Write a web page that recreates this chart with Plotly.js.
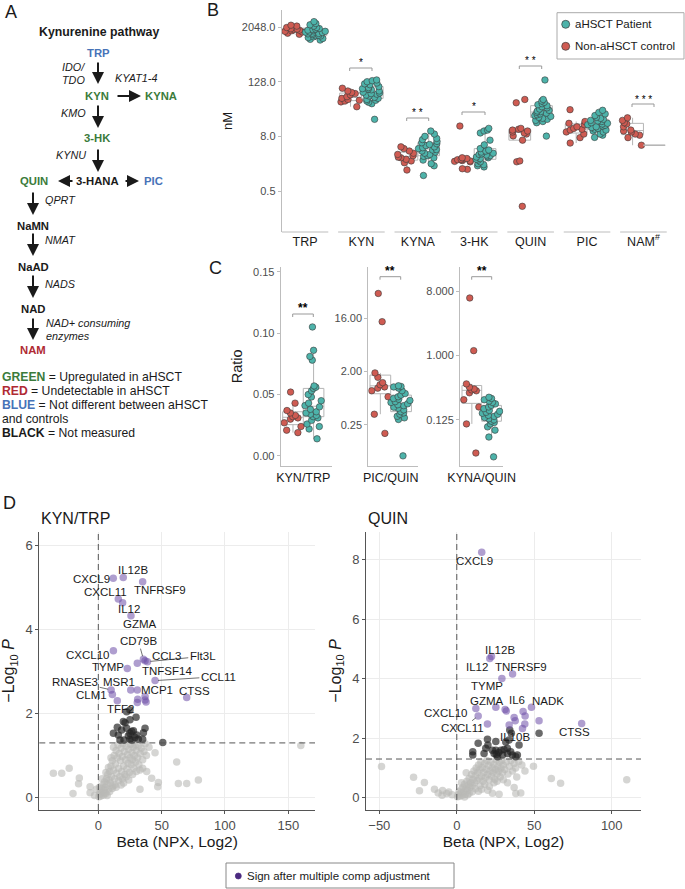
<!DOCTYPE html>
<html><head><meta charset="utf-8">
<script src="https://cdn.plot.ly/plotly-3.0.1.min.js"></script>
<style>html,body{margin:0;padding:0;background:#fff}#chart{width:685px;height:889px}</style>
</head><body><div id="chart"></div>
<script>
const W=685,H=889;
const PX=x=>x/W, PY=y=>1-y/H;
const FONT='"Liberation Sans", Arial, Helvetica, sans-serif';
const TEAL='#4db3aa', RED='#cf5b52', PURPLE_DOT='#4b2a80';
const GREEN='#3b7b3b', BLUE='#4773b8', DRED='#b02a33', INK='#1a1a1a', TICK='#4d4d4d';

// ---------- Panel B: metabolite concentrations (nM) ----------
const metabolites=['TRP','KYN','KYNA','3-HK','QUIN','PIC','NAM'];
const metaboliteLabels=['TRP','KYN','KYNA','3-HK','QUIN','PIC','NAM<sup>#</sup>'];
const ctrlTRP=[2250,2150,2000,1880,1850,1800,1750,1700,1650,1600,1500,1420];
const patTRP=[2700,2450,2300,2150,2000,1900,1850,1800,1750,1700,1650,1600,1580,1550,1500,1480,1450,1400,1350,1320,1300,1250,1200,1150,1100,1060];
const ctrlKYN=[92,80,74,70,66,60,55,52,50,48,46,36];
const patKYN=[140,135,128,120,115,110,100,95,90,88,85,80,75,72,70,68,65,62,58,55,52,50,48,45,42,19];
const ctrlKYNA=[4.7,4.3,3.8,3.4,3.2,3.0,2.8,2.7,2.5,2.3,2.1,1.45];
const patKYNA=[10.5,9.0,8.0,7.2,6.8,6.2,5.8,5.5,5.3,5.0,4.7,4.5,4.3,4.1,4.0,3.8,3.6,3.4,3.2,3.0,2.9,2.7,2.4,2.0,1.8,1.1];
const ctrl3HK=[13.5,2.7,2.6,2.5,2.45,2.4,2.35,2.3,2.25,2.2,1.55,1.5];
const pat3HK=[12,11,10.5,9.5,6.6,5.2,4.3,4.0,3.8,3.6,3.4,3.3,3.2,3.1,3.0,2.9,2.8,2.7,2.6,2.5,2.4,2.2,2.0,1.9,1.8,1.7];
const ctrlQUIN=[52,44,12,11.5,11,10.5,10,9.5,9,8.2,6.6,2.3,2.2,0.23];
const patQUIN=[140,52,48,45,42,40,38,36,34,32,30,29,28,27,26,25,24,23,22,21,20,19,18,17,16,8.1];
const ctrlPIC=[31,17,15.5,14.5,13,12,11.5,11,10,9,7.5,5.7];
const patPIC=[30,27,25,23,21,20,19,18,17.5,17,16,15.5,15,14.5,14,13.5,13,12.5,12,11.5,11,10.5,10,9,8.5,7.6];
const ctrlNAM=[20.5,18,16,15,13,11,10.5,10,9,8.5,7.5,5.1];
const patNAM=[5.1,5.1,5.1,5.1,5.1,5.1,5.1,5.1,5.1,5.1,5.1,5.1,5.1,5.1,5.1,5.1,5.1,5.1,5.1,5.1,5.1,5.1,5.1,5.1,5.1,5.1];
const nMTicks=[0.5,8,128,2048], nMTickText=['0.5','8.0','128.0','2048.0'];

// ---------- Panel C: ratios ----------
const ctrlKynTrp=[0.052,0.043,0.037,0.035,0.033,0.032,0.031,0.030,0.027,0.024,0.021,0.019];
const patKynTrp=[0.105,0.086,0.081,0.078,0.057,0.056,0.055,0.053,0.050,0.048,0.045,0.043,0.041,0.040,0.038,0.036,0.035,0.034,0.033,0.032,0.031,0.029,0.026,0.024,0.022,0.014];
const ctrlPicQuin=[42,14,1.9,1.6,1.3,1.2,1.1,1.05,0.95,0.75,0.38,0.18];
const patPicQuin=[1.15,1.12,1.1,1.05,0.95,0.85,0.8,0.75,0.7,0.68,0.65,0.62,0.6,0.57,0.55,0.53,0.5,0.48,0.45,0.42,0.4,0.38,0.35,0.33,0.31,0.075];
const ctrlKynaQuin=[6.4,1.17,0.40,0.36,0.34,0.33,0.32,0.30,0.24,0.19,0.11,0.043];
const patKynaQuin=[0.26,0.25,0.24,0.23,0.22,0.21,0.2,0.19,0.18,0.17,0.165,0.16,0.155,0.15,0.145,0.14,0.135,0.13,0.125,0.12,0.115,0.11,0.1,0.09,0.072,0.038];
const picQuinTicks=[0.25,2,16], picQuinTickText=['0.25','2.00','16.00'];
const kynaQuinTicks=[0.125,1,8], kynaQuinTickText=['0.125','1.000','8.000'];

// ---------- Panel D: volcano data [beta, -log10 P] ----------
const ktSig=[['CXCL9',11.8,5.21],['IL12B',19.7,5.23],['TNFRSF9',35.0,5.13],['CXCL11',15.8,4.72],['IL12',19.2,4.63],['GZMA',25.8,4.32],['CXCL10',11.9,3.49],['CD79B',35.6,3.29],['CCL3',36.9,3.25],['Flt3L',38.8,3.23],['TNFSF14',30.8,3.19],['TYMP',22.9,3.07],['CCL11',44.8,2.78],['RNASE3',10.1,2.56],['MSR1',25.6,2.56],['MCP1',30.8,2.56],['CLM1',11.1,2.45],['CTSS',69.8,2.38],['TFF2',15.0,2.30],['',31.1,2.34],['',30.8,2.26],['',36.9,2.40],['',36.9,2.32],['',37.7,2.27]];
const ktNominal=[[22.4,2.04],[25.0,2.08],[19.8,1.81],[21.1,1.78],[29.8,1.91],[25.0,1.85],[15.0,1.67],[18.4,1.61],[22.4,1.65],[26.4,1.57],[27.7,1.59],[36.9,1.65],[35.6,1.54],[11.9,1.53],[17.1,1.37],[20.3,1.37],[25.0,1.39],[29.0,1.43],[31.6,1.39],[35.0,1.39],[15.8,1.49],[25.0,1.53],[50.9,1.31],[23.7,1.47],[30.3,1.49],[26.4,1.37]];
const ktNS=[[-35.5,0.58],[-28.9,0.58],[-23,0.70],[-15,0.47],[-15.6,0.33],[-20,0.10],[-6.5,0.26],[-6.5,0.12],[-3,0.05],[-1.5,0.2],[44.8,1.07],[32.9,0.66],[42.1,0.46],[47.4,0.36],[46.9,0.26],[32.9,0.20],[61.9,0.85],[63.2,0.34],[69.8,0.34],[79,0.42],[159.9,1.24],[38.2,0.62],
[0.5,0.02],[1,0.08],[1.5,0.15],[2,0.04],[2.5,0.22],[3,0.12],[3.5,0.3],[4,0.06],[4.5,0.18],[5,0.38],[5.5,0.25],[6,0.1],[6.5,0.45],[7,0.32],[7.5,0.55],[8,0.2],[8.5,0.42],[9,0.62],[9.5,0.35],[10,0.75],[10.5,0.5],[11,0.88],[11.5,0.28],[12,0.65],[12.5,1.0],[13,0.45],[13.5,0.8],[14,1.12],[14.5,0.58],[15,0.95],[15.5,1.25],[16,0.7],[16.5,1.05],[17,0.5],[17.5,0.88],[18,1.18],[18.5,0.62],[19,0.98],[19.5,1.28],[20,0.75],[20.5,1.1],[21,0.55],[21.5,0.9],[22,1.22],[22.5,0.68],[23,1.02],[23.5,0.82],[24,1.15],[24.5,0.6],[25,0.95],[25.5,1.27],[26,0.78],[26.5,1.08],[27,0.9],[27.5,1.2],[28,0.7],[28.5,1.0],[29,1.25],[29.5,0.85],[30,1.12],[31,0.95],[31.5,1.22],[32,0.78],[33,1.05],[34,1.18],[35,0.9],[36,1.1],[37,1.28],[38,1.0],[40,1.2],[13,0.3],[16,0.4],[19,0.45],[22,0.5],[9,0.15],[11,0.22],[14,0.25],[7,0.05],[5,0.12],[18,0.3],[24,0.42],[20,0.35],[27,0.55],[6,0.6],[8,0.72],[10,0.95],[12,1.2],[3,0.45],[1,0.25],[35,0.7],[30,0.62]];

const quSig=[['CXCL9',16.1,8.26],['IL12B',22.4,4.75],['IL12',21.3,4.68],['TNFRSF9',36.0,4.16],['TYMP',29.1,4.01],['GZMA',25.2,3.04],['IL6',31.2,2.97],['',32.0,2.92],['NADK',48.2,3.04],['CXCL10',12.3,3.0],['CXCL11',13.8,2.75],['',42.8,2.90],['',44.1,2.75],['',37.0,2.70],['',37.7,2.59],['',43.9,2.48],['',53.1,2.59],['',19.8,2.48],['',33.8,2.45],['IL10B',42.4,2.33],['CTSS',80.6,2.50]];
const quNominal=[[53.1,2.17],[25.2,1.89],[19.8,1.97],[13.8,1.83],[20.1,1.77],[31.6,1.87],[33.7,1.94],[40.2,1.77],[10.3,1.55],[10.3,1.44],[18.7,1.66],[17.6,1.49],[24.1,1.49],[26.3,1.38],[25.2,1.60],[28.5,1.60],[30.5,1.62],[32.7,1.66],[34.8,1.55],[35.9,1.44],[38.1,1.38],[39.1,1.44],[32.7,1.49],[29.5,1.44],[23.0,1.60],[34.2,2.28],[35.2,2.17],[27,1.52],[25.5,1.45]];
const quNS=[[-48.6,1.05],[-27.9,0.69],[-20.9,0.51],[-24.1,0.23],[-14.4,0.28],[-9.5,0.08],[-9.2,0.24],[-6.5,0.14],[-5.2,0.19],[-12,0.16],[-3,0.10],[49.5,1.06],[61,0.65],[67,0.49],[109.7,0.60],[38.7,0.70],[37.0,0.34],[27.3,0.12],[41.3,0.16],[38.1,0.14],[6.1,0.84],[32.7,0.5],[44,0.9],
[0.5,0.03],[1,0.1],[1.5,0.2],[2,0.05],[2.5,0.15],[3,0.28],[3.5,0.08],[4,0.35],[4.5,0.2],[5,0.45],[5.5,0.12],[6,0.3],[6.5,0.55],[7,0.25],[7.5,0.42],[8,0.65],[8.5,0.35],[9,0.5],[9.5,0.78],[10,0.4],[10.5,0.62],[11,0.9],[11.5,0.5],[12,0.75],[12.5,1.0],[13,0.58],[13.5,0.85],[14,1.1],[14.5,0.65],[15,0.95],[15.5,1.2],[16,0.72],[16.5,1.02],[17,0.55],[17.5,0.85],[18,1.15],[18.5,0.68],[19,0.95],[19.5,1.25],[20,0.78],[20.5,1.08],[21,0.6],[21.5,0.9],[22,1.2],[22.5,0.72],[23,1.0],[23.5,0.85],[24,1.12],[24.5,0.62],[25,0.95],[25.5,1.28],[26,0.8],[26.5,1.05],[27,0.9],[27.5,1.2],[28,0.7],[28.5,1.0],[29,1.25],[29.5,0.85],[30,1.1],[31,0.95],[32,1.2],[33,0.8],[34,1.05],[35,1.25],[36,0.9],[37,1.15],[38,1.0],[40,1.22],[42,1.1],[8,0.15],[12,0.3],[15,0.4],[18,0.45],[21,0.38],[24,0.5],[5,0.02],[7,0.1],[10,0.2],[14,0.22],[3,0.5],[26,0.55],[30,0.6],[16,0.28],[20,0.25],[23,0.15]];

const P05=-Math.log10(0.05);

// label placement (pixel offsets of label centre from point, leader line flag)
const ktLabelPos={CXCL9:[-22,0.6,0],IL12B:[10,-7,0],TNFRSF9:[17,8.3,0],CXCL11:[-13.3,-6.7,0],IL12:[6.6,6.3,0],GZMA:[9,8.3,0],CXCL10:[-26,4.3,0],CD79B:[-5,-18,1],CCL3:[21,-5,0],Flt3L:[55.3,-5.3,1],TNFSF14:[29.4,7.3,0],TYMP:[-19,-1.8,0],CCL11:[63.3,-4,1],RNASE3:[-36,-8.2,1],MSR1:[-11.7,-8.2,0],MCP1:[19.4,0,0],CLM1:[-20.7,0.4,0],CTSS:[7.6,-6.5,0],TFF2:[2.7,8.4,0]};
const quLabelPos={CXCL9:[-7.7,8.6,0],IL12B:[8.6,-6.6,0],IL12:[-12.3,8,0],TNFRSF9:[8.2,-7.4,0],TYMP:[-14.4,7.1,0],GZMA:[-9.1,-6.4,0],IL6:[12.3,-9.5,1],NADK:[16.6,-6.4,0],CXCL10:[-30.8,4.7,0],CXCL11:[-15.7,12.3,1],IL10B:[-7.4,8.2,1],CTSS:[-7.6,8.3,0]};

// ---------- helpers ----------
// log2-transformed scale (as ggplot's trans = "log2"): box statistics computed on the log2 values
const log2=v=>Math.log2(v);
function longForm(cats,groups,tf){const x=[],y=[];cats.forEach((c,i)=>groups[i].forEach(v=>{x.push(c);y.push(tf?tf(v):v);}));return {x,y};}
function boxTrace(color,d,xa,ya,og,points){
  return {type:'box',x:d.x,y:d.y,xaxis:xa,yaxis:ya,offsetgroup:og,alignmentgroup:xa,
    boxpoints:points===false?false:'all',jitter:1,pointpos:0,
    fillcolor:'rgba(255,255,255,0)',line:{color:'#b5b5b5',width:1},whiskerwidth:0,
    marker:{color:color,size:6.5,line:{color:'#3a3a3a',width:0.6}},showlegend:false,hoverinfo:'skip'};
}
const cat1=(name,arr,tf)=>({x:arr.map(()=>name),y:arr.map(v=>tf?tf(v):v)});

const ctrlB=longForm(metabolites,[ctrlTRP,ctrlKYN,ctrlKYNA,ctrl3HK,ctrlQUIN,ctrlPIC,ctrlNAM],log2);
const patB=longForm(metabolites.slice(0,6),[patTRP,patKYN,patKYNA,pat3HK,patQUIN,patPIC],log2);
const patBnam=longForm(['NAM'],[patNAM],log2);

const traces=[
  boxTrace(RED,ctrlB,'x','y','c'),
  boxTrace(TEAL,patB,'x','y','p'),
  boxTrace(TEAL,patBnam,'x','y','p',false),
  boxTrace(RED,cat1('KYN/TRP',ctrlKynTrp),'x2','y2','c'),
  boxTrace(TEAL,cat1('KYN/TRP',patKynTrp),'x2','y2','p'),
  boxTrace(RED,cat1('PIC/QUIN',ctrlPicQuin,log2),'x3','y3','c'),
  boxTrace(TEAL,cat1('PIC/QUIN',patPicQuin,log2),'x3','y3','p'),
  boxTrace(RED,cat1('KYNA/QUIN',ctrlKynaQuin,log2),'x4','y4','c'),
  boxTrace(TEAL,cat1('KYNA/QUIN',patKynaQuin,log2),'x4','y4','p'),
];
function scat(arr,color,xa,ya){return {type:'scatter',mode:'markers',x:arr.map(p=>p[0]),y:arr.map(p=>p[1]),xaxis:xa,yaxis:ya,marker:{color:color,size:7.5,line:{width:0}},showlegend:false,hoverinfo:'skip'};}
const GREY='rgba(185,185,182,0.6)', DARK='rgba(35,35,35,0.68)', PURP='rgba(110,78,168,0.55)';
traces.push(scat(ktNS,GREY,'x5','y5'),scat(ktNominal,DARK,'x5','y5'),scat(ktSig.map(s=>[s[1],s[2]]),PURP,'x5','y5'));
traces.push(scat(quNS,GREY,'x6','y6'),scat(quNominal,DARK,'x6','y6'),scat(quSig.map(s=>[s[1],s[2]]),PURP,'x6','y6'));

// ---------- annotations ----------
const ann=[];
function txt(x,y,text,size,opt){ann.push(Object.assign({xref:'paper',yref:'paper',x:PX(x),y:PY(y),text:text,showarrow:false,xanchor:'center',yanchor:'middle',font:{family:FONT,size:size,color:INK}},opt||{}));}
function arrow(hx,hy,tx,ty){ann.push({xref:'paper',yref:'paper',x:PX(hx),y:PY(hy),ax:tx-hx,ay:ty-hy,text:'',showarrow:true,arrowhead:2,arrowsize:1.2,arrowwidth:2,arrowcolor:INK,standoff:0});}

// panel letters
txt(11,12,'A',18); txt(213,10,'B',18); txt(215,268,'C',18); txt(9,503,'D',18);

// Panel A: pathway
const b=s=>'<b>'+s+'</b>', i=s=>'<i>'+s+'</i>';
txt(98.5,32,b('Kynurenine pathway'),12.3);
txt(98.3,53,b('TRP'),11.3,{font:{family:FONT,size:11.3,color:BLUE}});
txt(87,67,i('IDO/'),10.8,{xanchor:'right'}); txt(87,80,i('TDO'),10.8,{xanchor:'right'});
txt(135.7,78,i('KYAT1-4'),10.8);
txt(97.3,95.7,b('KYN'),11.3,{font:{family:FONT,size:11.3,color:GREEN}});
txt(160.7,96,b('KYNA'),11.3,{font:{family:FONT,size:11.3,color:GREEN}});
txt(87.5,113.3,i('KMO'),10.8,{xanchor:'right'});
txt(97.3,138,b('3-HK'),11.3,{font:{family:FONT,size:11.3,color:GREEN}});
txt(87.5,155,i('KYNU'),10.8,{xanchor:'right'});
txt(33.7,181,b('QUIN'),11.3,{font:{family:FONT,size:11.3,color:GREEN}});
txt(97.3,181,b('3-HANA'),11.3);
txt(153.7,181,b('PIC'),11.3,{font:{family:FONT,size:11.3,color:BLUE}});
txt(43.3,199.7,i('QPRT'),10.8,{xanchor:'left'});
txt(33.3,226,b('NaMN'),11.3);
txt(43.3,240,i('NMAT'),10.8,{xanchor:'left'});
txt(33.3,267,b('NaAD'),11.3);
txt(43.3,284,i('NADS'),10.8,{xanchor:'left'});
txt(33.3,309,b('NAD'),11.3);
txt(44.3,323,i('NAD+ consuming'),10.8,{xanchor:'left'});
txt(44.3,336,i('enzymes'),10.8,{xanchor:'left'});
txt(33.3,350,b('NAM'),11.3,{font:{family:FONT,size:11.3,color:DRED}});
arrow(98,84,98,61); arrow(141,96,116,96); arrow(98,128,98,104); arrow(98,172,98,148);
arrow(58,181,74,181); arrow(139,181,124,181);
arrow(33,215,33,191); arrow(33,256,33,232); arrow(33,298,33,274); arrow(33,340,33,317);
const col=(c,s)=>'<span style="color:'+c+'"><b>'+s+'</b></span>';
txt(0,377,col(GREEN,'GREEN')+' = Upregulated in aHSCT',12.2,{xanchor:'left'});
txt(0,391,col(DRED,'RED')+' = Undetectable in aHSCT',12.2,{xanchor:'left'});
txt(0,405,col(BLUE,'BLUE')+' = Not different between aHSCT',12.2,{xanchor:'left'});
txt(0,419,'and controls',12.2,{xanchor:'left'});
txt(0,433,col(INK,'BLACK')+' = Not measured',12.2,{xanchor:'left'});

// Panel B legend
txt(573,24.3,'aHSCT Patient',11.5,{xanchor:'left'});
txt(573,46.3,'Non-aHSCT control',11.5,{xanchor:'left'});
// significance stars
const STAR={family:FONT,size:10,color:'#000'};
txt(361,62,'*',10,{font:STAR}); txt(417.7,113,'* *',10,{font:STAR}); txt(473.5,107,'*',10,{font:STAR}); txt(530.5,61,'* *',10,{font:STAR}); txt(643,99,'* * *',10,{font:STAR});
txt(303,308.5,'<b>**</b>',12,{font:{family:FONT,size:12,color:'#000'}}); txt(390.3,271,'<b>**</b>',12,{font:{family:FONT,size:12,color:'#000'}}); txt(481.7,271,'<b>**</b>',12,{font:{family:FONT,size:12,color:'#000'}});
// D titles
txt(39.3,518,'KYN/TRP',16,{xanchor:'left'});
txt(366,518,'QUIN',16,{xanchor:'left'});
// bottom legend
txt(244.5,876,'Sign after multiple comp adjustment',11.5,{xanchor:'left'});

// gene labels
function geneLabels(sig,pos,xa,ya){sig.forEach(s=>{const p=pos[s[0]];if(!s[0]||!p)return;
  ann.push({xref:xa,yref:ya,x:s[1],y:s[2],text:s[0],showarrow:true,ax:p[0],ay:p[1],arrowhead:0,arrowwidth:0.7,
    arrowcolor:p[2]?'#333':'rgba(0,0,0,0)',standoff:p[2]?3:0,font:{family:FONT,size:11.5,color:INK}});});}
geneLabels(ktSig,ktLabelPos,'x5','y5');
geneLabels(quSig,quLabelPos,'x6','y6');

// ---------- shapes ----------
const shapes=[];
const LG='#bdbdbd';
metabolites.forEach((m,k)=>shapes.push({type:'line',xref:'x',yref:'paper',x0:k-0.413,x1:k+0.413,y0:PY(232),y1:PY(232),line:{color:LG,width:1}}));
function bracket(x0,x1,y){shapes.push({type:'path',xref:'paper',yref:'paper',path:`M${PX(x0)},${PY(y+3)} L${PX(x0)},${PY(y)} L${PX(x1)},${PY(y)} L${PX(x1)},${PY(y+3)}`,line:{color:'#999',width:1}});}
bracket(349.7,372,68); bracket(406.7,428.7,118); bracket(462,485,112); bracket(519.3,541.7,66); bracket(632,654,104);
bracket(292.7,313.3,314); bracket(380,400.7,276.7); bracket(471.7,491.7,276.7);
// legend B box + dots
shapes.push({type:'rect',xref:'paper',yref:'paper',x0:PX(557),x1:PX(684),y0:PY(59),y1:PY(12.7),line:{color:'#aaa',width:1}});
function dot(x,y,r,fill,lc){shapes.push({type:'circle',xref:'paper',yref:'paper',xsizemode:'pixel',ysizemode:'pixel',xanchor:PX(x),yanchor:PY(y),x0:-r,x1:r,y0:-r,y1:r,fillcolor:fill,line:{color:lc,width:0.7}});}
dot(565.7,24.3,4,TEAL,'#3a3a3a'); dot(565.7,46.3,4,RED,'#3a3a3a');
// bottom legend
shapes.push({type:'rect',xref:'paper',yref:'paper',x0:PX(226),x1:PX(454),y0:PY(888),y1:PY(863),line:{color:'#888',width:1}});
dot(238.3,876,3,PURPLE_DOT,PURPLE_DOT);
// volcano reference lines
[['x5','y5'],['x6','y6']].forEach(([xa,ya])=>{
  shapes.push({type:'line',xref:xa,yref:ya+' domain',x0:0,x1:0,y0:0,y1:1,line:{color:'#555',width:1,dash:'6px,4px'}});
  shapes.push({type:'line',xref:xa+' domain',yref:ya,x0:0,x1:1,y0:P05,y1:P05,line:{color:'#555',width:1,dash:'6px,4px'}});
});

// ---------- axes ----------
const tf={family:FONT,size:11,color:TICK};
const catAxis=(dom,yref,range)=>({domain:[PX(dom[0]),PX(dom[1])],anchor:yref,type:'category',range:range,showline:false,ticks:'',showgrid:false,zeroline:false,tickfont:{family:FONT,size:12.5,color:INK},fixedrange:true});
const log2Axis=(dom,xref,range,tv,tt,extra)=>Object.assign({domain:[PY(dom[0]),PY(dom[1])],anchor:xref,range:range,tickmode:'array',tickvals:tv.map(log2),ticktext:tt,
    showline:true,linecolor:LG,ticks:'outside',ticklen:3,tickcolor:LG,showgrid:false,zeroline:false,tickfont:tf},extra||{});
const layout={
  width:W,height:H,margin:{l:0,r:0,t:0,b:0},paper_bgcolor:'#fff',plot_bgcolor:'rgba(0,0,0,0)',
  font:{family:FONT,color:INK},showlegend:false,boxmode:'group',boxgap:0.23,boxgroupgap:0,
  xaxis:Object.assign(catAxis([281.7,667.7],'y',[-0.413,6.43]),{tickmode:'array',tickvals:metabolites,ticktext:metaboliteLabels}),
  yaxis:log2Axis([232,10],'x',[-4,12.25],nMTicks,nMTickText,{title:{text:'nM',font:{family:FONT,size:13,color:INK},standoff:6}}),
  xaxis2:Object.assign(catAxis([280.7,331.7],'y2',[-0.422,0.531]),{showline:true,linecolor:LG}),
  yaxis2:{domain:[PY(465.7),PY(267)],anchor:'x2',range:[-0.0079,0.1538],tickmode:'array',tickvals:[0,0.05,0.1,0.15],ticktext:['0.00','0.05','0.10','0.15'],
    showline:true,linecolor:LG,ticks:'outside',ticklen:3,tickcolor:LG,showgrid:false,zeroline:false,tickfont:tf,
    title:{text:'Ratio',font:{family:FONT,size:14.5,color:INK},standoff:6}},
  xaxis3:Object.assign(catAxis([368.3,418.3],'y3',[-0.416,0.513]),{showline:true,linecolor:LG}),
  yaxis3:log2Axis([465.7,267],'x3',[-4.29,6.88],picQuinTicks,picQuinTickText),
  xaxis4:Object.assign(catAxis([460,503.3],'y4',[-0.424,0.422]),{showline:true,linecolor:LG}),
  yaxis4:log2Axis([465.7,267],'x4',[-5.13,4.12],kynaQuinTicks,kynaQuinTickText),
  annotations:ann,shapes:shapes
};
const dtf={family:FONT,size:13,color:TICK};
function volX(dom,ya,range){return {domain:[PX(dom[0]),PX(dom[1])],anchor:ya,range:range,tickmode:'array',tickvals:[-50,0,50,100,150],
  showline:true,linecolor:'#555',ticks:'outside',ticklen:3,tickcolor:'#555',showgrid:true,gridcolor:'#ececec',zeroline:false,tickfont:dtf,
  title:{text:'Beta (NPX, Log2)',font:{family:FONT,size:15.5,color:INK},standoff:4}};}
function volY(xa,range,tv){return {domain:[PY(810),PY(531.7)],anchor:xa,range:range,tickmode:'array',tickvals:tv,
  showline:true,linecolor:'#555',ticks:'outside',ticklen:3,tickcolor:'#555',showgrid:true,gridcolor:'#ececec',zeroline:false,tickfont:dtf,
  title:{text:'−Log<sub>10</sub> <i>P</i>',font:{family:FONT,size:16,color:INK},standoff:6}};}
layout.xaxis5=volX([39.3,315],'y5',[-46.6,171.1]);
layout.yaxis5=volY('x5',[-0.292,6.316],[0,2,4,6]);
layout.xaxis6=volX([366,641],'y6',[-58.6,118.9]);
layout.yaxis6=volY('x6',[-0.414,8.95],[0,2,4,6,8]);

Plotly.newPlot('chart',traces,layout,{staticPlot:true,displayModeBar:false});
</script></body></html>
